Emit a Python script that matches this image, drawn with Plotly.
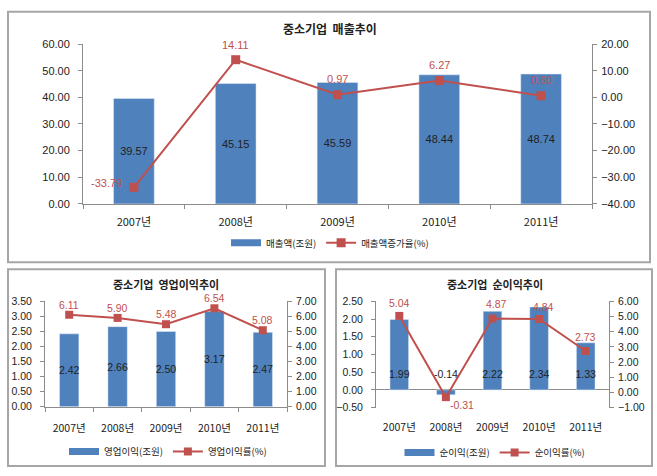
import plotly.graph_objects as go

years = ["2007년", "2008년", "2009년", "2010년", "2011년"]
sales = [39.57, 45.15, 45.59, 48.44, 48.74]
sales_growth = [-33.79, 14.11, 0.97, 6.27, 0.60]
op_profit = [2.42, 2.66, 2.50, 3.17, 2.47]
op_margin = [6.11, 5.90, 5.48, 6.54, 5.08]
net_profit = [1.99, -0.14, 2.22, 2.34, 1.33]
net_margin = [5.04, -0.31, 4.87, 4.84, 2.73]

W, H = 657, 476
BLUE = "#4F81BD"
RED = "#C0504D"
AX = "#8C8C8C"
FONT = "Liberation Sans, Noto Sans CJK KR, sans-serif"
KFONT = "Noto Sans CJK KR, sans-serif"
TXT = "#222222"


def fx(px):
    return px / W


def fy(py):
    return 1 - py / H


fig = go.Figure()
annotations = []


def line_labels(vals, xref, yref, shifts, size):
    for i, v in enumerate(vals):
        dx, dy = shifts[i]
        annotations.append(dict(text=f"{v:.2f}", x=years[i], y=v, xref=xref, yref=yref,
                                showarrow=False, xshift=dx, yshift=dy,
                                font=dict(family=FONT, size=size, color=RED)))


def legend_bar(name, legend, xa, ya):
    fig.add_trace(go.Scatter(x=[None], y=[None], mode="lines", name=name,
                             line=dict(color=BLUE, width=7), xaxis=xa, yaxis=ya,
                             legend=legend, hoverinfo="skip"))


# --- top chart
fig.add_trace(go.Bar(x=years, y=sales, marker_color=BLUE, width=0.4, showlegend=False,
                     texttemplate="%{y:.2f}", textposition="inside", insidetextanchor="middle",
                     constraintext="none", textangle=0,
                     textfont=dict(color=TXT, size=11, family=FONT),
                     xaxis="x", yaxis="y"))
legend_bar("매출액(조원)", "legend", "x", "y")
fig.add_trace(go.Scatter(x=years, y=sales_growth, name="매출액증가율(%)", mode="lines+markers",
                         line=dict(color=RED, width=2), marker=dict(symbol="square", size=9, color=RED),
                         cliponaxis=False, xaxis="x", yaxis="y2", legend="legend"))

# --- bottom-left chart
fig.add_trace(go.Bar(x=years, y=op_profit, marker_color=BLUE, width=0.4, showlegend=False,
                     texttemplate="%{y:.2f}", textposition="inside", insidetextanchor="middle",
                     constraintext="none", textangle=0,
                     textfont=dict(color=TXT, size=10.5, family=FONT),
                     xaxis="x2", yaxis="y3"))
legend_bar("영업이익(조원)", "legend2", "x2", "y3")
fig.add_trace(go.Scatter(x=years, y=op_margin, name="영업이익률(%)", mode="lines+markers",
                         line=dict(color=RED, width=2), marker=dict(symbol="square", size=8, color=RED),
                         cliponaxis=False, xaxis="x2", yaxis="y4", legend="legend2"))

# --- bottom-right chart
LABEL_Y = 0.42
fig.add_trace(go.Bar(x=years, y=net_profit, marker_color=BLUE, width=0.4, showlegend=False,
                     xaxis="x3", yaxis="y5"))
legend_bar("순이익(조원)", "legend3", "x3", "y5")
fig.add_trace(go.Scatter(x=years, y=[LABEL_Y] * len(years), mode="text",
                         text=[f"{v:.2f}" for v in net_profit], textposition="middle center",
                         textfont=dict(color=TXT, size=10.5, family=FONT), showlegend=False,
                         hoverinfo="skip", xaxis="x3", yaxis="y5"))
fig.add_trace(go.Scatter(x=years, y=net_margin, name="순이익률(%)", mode="lines+markers",
                         line=dict(color=RED, width=2), marker=dict(symbol="square", size=8, color=RED),
                         cliponaxis=False, xaxis="x3", yaxis="y6", legend="legend3"))

line_labels(sales_growth, "x", "y2", [(-27, 4), (0, 15), (0, 16), (0, 16), (0, 16)], 11)
line_labels(op_margin, "x2", "y4", [(0, 10)] * 5, 10.5)
line_labels(net_margin, "x3", "y6", [(0, 13), (16, -8), (4, 15), (4, 12), (0, 14)], 10.5)


def yax(domain, rng, dtick, size, side="left", overlay=None, anchor=None, zeroline=False):
    d = dict(domain=domain, range=rng, dtick=dtick, tickformat=".2f", showgrid=False,
             showline=True, linecolor=AX, linewidth=1, ticks="outside", ticklen=4,
             tickcolor=AX, tickfont=dict(family=FONT, size=size, color=TXT),
             ticklabelstandoff=6 if side == "left" else 2, zeroline=zeroline, zerolinecolor=AX,
             zerolinewidth=1, side=side, fixedrange=True)
    if overlay:
        d["overlaying"] = overlay
    if anchor:
        d["anchor"] = anchor
    return d


def xax(domain, anchor, size, standoff, showline=True):
    return dict(domain=domain, anchor=anchor, showgrid=False, showline=showline, linecolor=AX,
                linewidth=1, ticks="outside" if showline else "", ticklen=4, tickcolor=AX,
                tickson="boundaries", ticklabelstandoff=standoff,
                tickfont=dict(family=KFONT, size=size, color=TXT), fixedrange=True)


top_x = [fx(83), fx(592)]
top_y = [fy(203), fy(39)]
bl_x = [fx(45), fx(287)]
bl_y = [fy(411), fy(303)]
br_x = [fx(376), fx(609)]
br_y = [fy(412), fy(303)]

shapes = []
for (x0, y0, x1, y1) in [(8, 6, 650, 263), (8, 270, 325, 472), (336, 270, 652, 472)]:
    shapes.append(dict(type="rect", xref="paper", yref="paper", x0=fx(x0), x1=fx(x1),
                       y0=fy(y1), y1=fy(y0), line=dict(color="#A6A6A6", width=2),
                       fillcolor="rgba(0,0,0,0)", layer="below"))

for (txt, x, y, s) in [("중소기업  매출추이", 330, 23, 12), ("중소기업  영업이익추이", 166, 285, 11),
                       ("중소기업  순이익추이", 495, 285, 11)]:
    annotations.append(dict(text=f"<b>{txt}</b>", x=fx(x), y=fy(y), xref="paper", yref="paper",
                            showarrow=False, xanchor="center", yanchor="middle",
                            font=dict(family=KFONT, size=s, color=TXT)))

legfont = dict(family=KFONT, size=9.5, color=TXT)
fig.update_layout(
    width=W, height=H, margin=dict(l=0, r=0, t=0, b=0),
    paper_bgcolor="white", plot_bgcolor="white",
    barmode="overlay", font=dict(family=FONT, color=TXT),
    xaxis=xax(top_x, "y", 11, 8),
    yaxis=yax(top_y, [0, 60], 10, 11, anchor="x"),
    yaxis2=yax(top_y, [-40, 20], 10, 11, side="right", overlay="y", anchor="x"),
    xaxis2=xax(bl_x, "y3", 10.5, 12),
    yaxis3=yax(bl_y, [0, 3.5], 0.5, 10.5, anchor="x2"),
    yaxis4=yax(bl_y, [0, 7], 1, 10.5, side="right", overlay="y3", anchor="x2"),
    xaxis3=xax(br_x, "y5", 10.5, 12, showline=False),
    yaxis5=yax(br_y, [-0.5, 2.5], 0.5, 10.5, anchor="x3", zeroline=True),
    yaxis6=yax(br_y, [-1, 6], 1, 10.5, side="right", overlay="y5", anchor="x3"),
    legend=dict(orientation="h", x=fx(330), y=fy(243), xanchor="center", yanchor="middle",
                font=legfont, bgcolor="rgba(0,0,0,0)", itemwidth=30),
    legend2=dict(orientation="h", x=fx(168), y=fy(457), xanchor="center", yanchor="middle",
                 font=legfont, bgcolor="rgba(0,0,0,0)", itemwidth=30),
    legend3=dict(orientation="h", x=fx(495), y=fy(458), xanchor="center", yanchor="middle",
                 font=legfont, bgcolor="rgba(0,0,0,0)", itemwidth=30),
    shapes=shapes, annotations=annotations, showlegend=True,
)

fig.write_html("out.html", config={"displayModeBar": False},
               post_script="document.body.style.margin='0';")
